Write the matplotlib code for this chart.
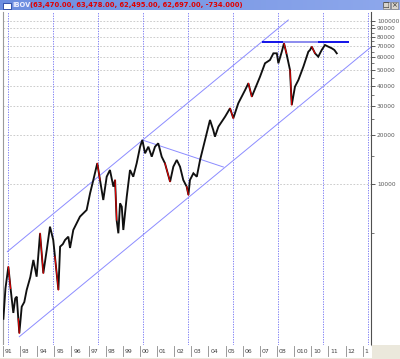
import numpy as np
import matplotlib
matplotlib.use("Agg")
import matplotlib.pyplot as plt
from matplotlib.patches import Rectangle

plt.rcParams['font.family'] = ['DejaVu Sans']

# ---------------- data ----------------
years = [1992.03, 1992.15, 1992.32, 1992.45, 1992.61, 1992.72, 1992.81, 1992.90, 1992.96,
         1993.10, 1993.25, 1993.39, 1993.60, 1993.78, 1993.97, 1994.17, 1994.36, 1994.56,
         1994.75, 1994.94, 1995.04, 1995.24, 1995.34, 1995.50, 1995.63, 1995.82, 1995.92,
         1996.11, 1996.50, 1996.89, 1997.09, 1997.28, 1997.51, 1997.67, 1997.86, 1998.06,
         1998.25, 1998.45, 1998.55, 1998.64, 1998.74, 1998.84, 1998.94, 1999.03, 1999.23,
         1999.42, 1999.61, 1999.81, 2000.01, 2000.14, 2000.30, 2000.49, 2000.69, 2000.88,
         2001.07, 2001.27, 2001.46, 2001.76, 2001.95, 2002.15, 2002.34, 2002.53, 2002.73,
         2002.83, 2002.92, 2003.12, 2003.32, 2003.51, 2003.80, 2004.09, 2004.28, 2004.38,
         2004.58, 2004.97, 2005.26, 2005.45, 2005.74, 2006.14, 2006.33, 2006.53, 2007.01,
         2007.30, 2007.59, 2007.79, 2007.99, 2008.08, 2008.28, 2008.41, 2008.55, 2008.76,
         2008.86, 2009.05, 2009.25, 2009.54, 2009.83, 2009.93, 2010.03, 2010.22, 2010.41,
         2010.61, 2010.80, 2011.00, 2011.20, 2011.35, 2011.49]
values = [1500, 2300, 3130, 2300, 1630, 2000, 2050, 1500, 1224,
          1780, 1900, 2254, 2700, 3440, 2717, 5010, 2851, 3960,
          5500, 4560, 3604, 2254, 4150, 4300, 4560, 4777, 4074,
          5250, 6340, 6960, 8810, 10625, 13450, 10625, 8013, 11130,
          12230, 9667, 10625, 6045, 5010, 7650, 7290, 5250, 8396,
          12230, 11130, 13450, 16990, 18675, 15480, 16990, 14760, 16990,
          17820, 14760, 13450, 10370, 12820, 14090, 12820, 10625, 9667,
          8600, 10625, 11680, 11130, 14090, 18675, 24770, 21500, 19570,
          22530, 25940, 29200, 25370, 31330, 37800, 41550, 34400, 45600,
          55080, 57700, 63400, 63400, 55080, 64860, 73030, 63400, 50100,
          30590, 39600, 43530, 52500, 64860, 66440, 69600, 63400, 60450,
          66440, 71290, 69600, 68050, 66440, 63400]
red_from = [1992.32, 1992.90, 1994.17, 1995.04, 1997.51, 1998.55, 2001.46, 2002.73,
            2005.26, 2006.33, 2008.41, 2008.76, 2010.03]

upper_channel = ([1992.26, 2008.66], [3867, 101410])
lower_channel = ([1992.96, 2013.47], [1166, 69000])
down_line = ([2000.14, 2004.87], [18675, 12760])
resist_level = 74650
resist_dark = [(2007.11, 2008.37), (2010.41, 2012.22)]
resist_light = [(2008.37, 2010.41)]

ytick_vals = [10000, 20000, 30000, 40000, 50000, 60000, 70000, 80000, 90000, 100000]
ytick_minor = [5000, 15000, 25000, 35000, 45000, 55000, 65000, 75000, 85000, 95000]
vgrid_years = [1992.27, 1994.95, 1997.58, 2000.20, 2002.83, 2005.45, 2008.08, 2010.71, 2013.33]
xlabel_years = list(range(1992, 2014))
xlabel_text = ["91", "93", "94", "95", "96", "97", "98", "99", "00", "01", "02", "03",
               "04", "05", "06", "07", "08", "010", "10", "11", "12", "1"]
title_name = "IBOV"
title_vals = "(63,470.00, 63,478.00, 62,495.00, 62,697.00, -734.000)"

# ---------------- figure ----------------
W, H = 400, 359
fig = plt.figure(figsize=(4.0, 3.59), dpi=100)
fig.patch.set_facecolor('white')

def fx(px):
    return px / W

def fy(py):
    return 1 - py / H

x_left, x_right = 2.5, 370.7
y_top, y_bot = 12, 345
ax = fig.add_axes([fx(x_left), fy(y_bot), fx(x_right) - fx(x_left), fy(y_top) - fy(y_bot)])
ax.set_yscale('log')
ax.set_xlim(1991.978, 2013.47)
ax.set_ylim(1037, 113530)
ax.set_facecolor('white')

# grids
for v in ytick_vals:
    ax.axhline(v, color='#c4c4c4', lw=0.6, ls=(0, (2, 2)), zorder=1)
for yv in vgrid_years:
    ax.axvline(yv, color='#7f7ff5', lw=0.7, ls=(0, (1.3, 1.3)), zorder=1)

# trend lines
for (xs, ys) in (upper_channel, lower_channel, down_line):
    ax.plot(xs, ys, color='#8c8cff', lw=0.7, zorder=2)
for a, b in resist_light:
    ax.plot([a, b], [resist_level, resist_level], color='#8a8aee', lw=1.4, zorder=5,
            solid_capstyle='butt')
for a, b in resist_dark:
    ax.plot([a, b], [resist_level, resist_level], color='#0000e6', lw=1.3, zorder=2,
            solid_capstyle='butt')

# price
ax.plot(years, values, color='#101010', lw=1.35, zorder=3, solid_joinstyle='miter')
for i in range(len(years) - 1):
    if years[i] in red_from:
        ax.plot(years[i:i + 2], values[i:i + 2], color='#e00000', lw=0.8, zorder=4)

# axes styling
ax.spines['top'].set_visible(False)
ax.spines['left'].set_color('#9a9a9a')
ax.spines['left'].set_linewidth(0.8)
ax.spines['bottom'].set_color('#b0b0b0')
ax.spines['bottom'].set_linewidth(0.6)
ax.spines['right'].set_color('#505050')
ax.spines['right'].set_linewidth(0.8)
ax.set_xticks([])
ax.yaxis.tick_right()
ax.set_yticks(ytick_vals)
ax.set_yticklabels([str(v) for v in ytick_vals])
ax.set_yticks(ytick_minor, minor=True)
ax.yaxis.set_minor_formatter(matplotlib.ticker.NullFormatter())
ax.tick_params(axis='y', which='major', length=3, width=0.6, color='#404040',
               labelsize=4.2, labelcolor='#5a5a5a', pad=1.5)
ax.tick_params(axis='y', which='minor', length=1.8, width=0.5, color='#404040')

# ---------------- x label row ----------------
axl = fig.add_axes([fx(x_left), fy(357), fx(x_right) - fx(x_left), fy(345) - fy(357)])
axl.set_xlim(ax.get_xlim())
axl.set_ylim(0, 1)
axl.set_facecolor('white')
for s in axl.spines.values():
    s.set_visible(False)
axl.set_xticks([])
axl.set_yticks([])
for yr, lab in zip(xlabel_years, xlabel_text):
    axl.plot([yr, yr], [0.05, 0.95], color='#8a8a8a', lw=0.6, clip_on=True)
    axl.text(yr + 0.12, 0.45, lab, fontsize=4.4, color='#404040', va='center', ha='left',
             clip_on=True)

# beige corner / bottom strip
fig.patches.append(Rectangle((fx(372), 0), 1 - fx(372), fy(345), transform=fig.transFigure,
                             facecolor='#ebe8dc', edgecolor='none', zorder=0))
fig.patches.append(Rectangle((0, 0), 1, fy(357.5), transform=fig.transFigure,
                             facecolor='#ebe8dc', edgecolor='none', zorder=0))

# ---------------- title bar ----------------
axt = fig.add_axes([0, fy(10.5), 1, fy(0) - fy(10.5)])
grad = np.linspace(0, 1, 256).reshape(1, -1)
cmap = matplotlib.colors.LinearSegmentedColormap.from_list('tb', ['#6d8ee0', '#8ea8ec'])
axt.imshow(grad, aspect='auto', cmap=cmap, extent=[0, W, 10.5, 0])
axt.set_xlim(0, W)
axt.set_ylim(10.5, 0)
axt.axis('off')
axt.add_patch(Rectangle((2.5, 2.5), 8, 6, facecolor='white', edgecolor='#2040a0', lw=0.6))
axt.text(12, 5.4, title_name, fontsize=4.8, color='#f0f0ff', va='center', ha='left',
         fontweight='bold')
axt.text(30.5, 5.4, title_vals, fontsize=4.9, color='#e00000', va='center', ha='left',
         fontweight='bold')
for bx, sym in ((382.5, '\u25a1'), (390.5, '\u00d7')):
    axt.add_patch(Rectangle((bx, 1.5), 7, 7.5, facecolor='#d8d4cc', edgecolor='#808080', lw=0.5))
    axt.text(bx + 3.5, 5.3, sym, fontsize=5, color='#303030', va='center', ha='center')

fig.savefig('out.png', dpi=100)
